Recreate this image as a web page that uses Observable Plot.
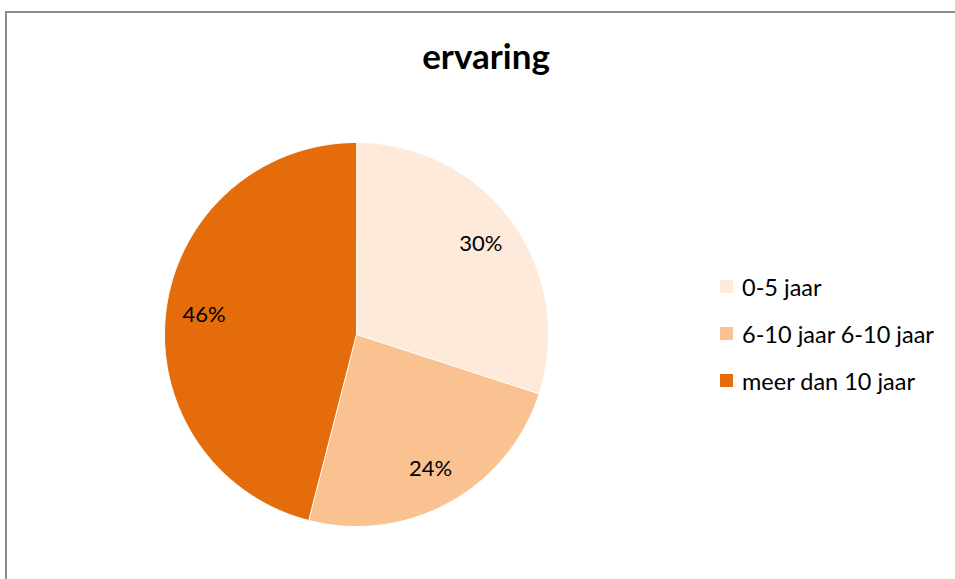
<!DOCTYPE html>
<html>
<head>
<meta charset="utf-8">
<script src="https://cdn.jsdelivr.net/npm/d3@7"></script>
<script src="https://cdn.jsdelivr.net/npm/@observablehq/plot@0.6"></script>
<style>
  html, body { margin: 0; padding: 0; background: #fff; }
  #wrap { position: relative; width: 955px; height: 579px; overflow: hidden; font-family: Lato, "Open Sans", sans-serif; }
  #frame { position: absolute; left: 5px; top: 11px; width: 1000px; height: 700px; border: 2px solid #8c8c8c; box-sizing: border-box; }
  #title { position: absolute; left: 0; width: 972px; top: 33px; text-align: center; font-weight: bold; font-size: 35px; line-height: 44px; color: #000; }
  #chart { position: absolute; left: 0; top: 0; }
  #legend { position: absolute; left: 720px; top: 263px; font-size: 23.5px; color: #000; }
  .row { display: flex; align-items: center; height: 47px; }
  .sw { width: 13px; height: 13px; margin-right: 9px; }
</style>
</head>
<body>
<div id="wrap">
  <div id="frame"></div>
  <div id="title">ervaring</div>
  <div id="chart"></div>
  <div id="legend"></div>
</div>
<script>
const categories = ["0-5 jaar", "6-10 jaar 6-10 jaar", "meer dan 10 jaar"];
const values = [30, 24, 46];
const colors = ["#FDEADA", "#FAC191", "#E46C0A"];
const labels = ["30%", "24%", "46%"];

const total = d3.sum(values);
const slices = [];
const labelPts = [];
let acc = 0;
categories.forEach((c, i) => {
  const a0 = acc / total * 2 * Math.PI;
  acc += values[i];
  const a1 = acc / total * 2 * Math.PI;
  const n = Math.max(2, Math.ceil((a1 - a0) / 0.01));
  slices.push({cat: c, x: 0, y: 0});
  for (let k = 0; k <= n; k++) {
    const a = a0 + (a1 - a0) * k / n;
    slices.push({cat: c, x: Math.sin(a), y: Math.cos(a)});
  }
  const am = (a0 + a1) / 2;
  labelPts.push({cat: c, label: labels[i], x: 0.8 * Math.sin(am), y: 0.8 * Math.cos(am)});
});

const cx = 356, cy = 334, r = 192;
const plot = Plot.plot({
  width: 955,
  height: 579,
  margin: 0,
  style: {background: "transparent", overflow: "visible"},
  x: {domain: [-1, 1], range: [cx - r, cx + r], axis: null},
  y: {domain: [-1, 1], range: [cy + r, cy - r], axis: null},
  color: {domain: categories, range: colors},
  marks: [
    Plot.line(slices, {x: "x", y: "y", z: "cat", fill: "cat", stroke: "#fff", strokeWidth: 1, curve: "linear-closed"}),
    Plot.text(labelPts, {x: "x", y: "y", text: "label", fontSize: 22, fill: "#000", fontFamily: "Lato, 'Open Sans', sans-serif"})
  ]
});
document.getElementById("chart").appendChild(plot);

const color = plot.scale("color");
const legend = document.getElementById("legend");
categories.forEach(c => {
  const row = document.createElement("div");
  row.className = "row";
  const sw = document.createElement("div");
  sw.className = "sw";
  sw.style.background = color.apply(c);
  const t = document.createElement("span");
  t.textContent = c;
  row.appendChild(sw);
  row.appendChild(t);
  legend.appendChild(row);
});
</script>
</body>
</html>
